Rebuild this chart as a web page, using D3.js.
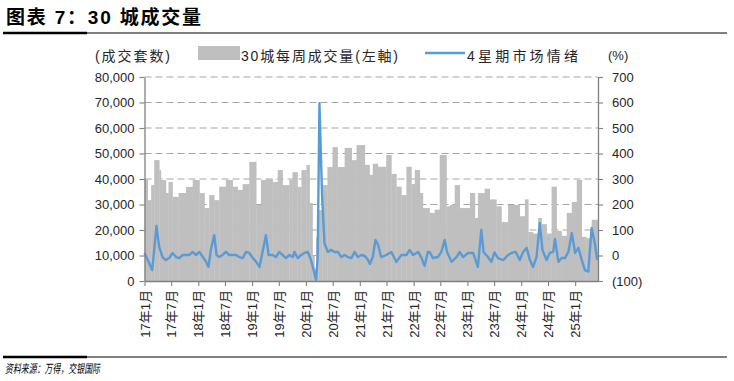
<!DOCTYPE html>
<html>
<head>
<meta charset="utf-8">
<script src="https://cdn.jsdelivr.net/npm/d3@7"></script>
<style>
    body { margin: 0; background: #fff; }
    svg { display: block; }
    text { font-family: "Liberation Sans", Arial, "Noto Sans CJK SC", sans-serif; }
</style>
</head>
<body>
<div id="chart"></div>
<script>
// 30城每周成交量 (套), each value holds from its start date to the next one
const volumeDates = [
    "2017-01-01", "2017-01-23", "2017-02-15", "2017-03-08", "2017-04-11", "2017-04-22", "2017-05-26", "2017-06-13",
    "2017-07-10", "2017-08-20", "2017-10-10", "2017-11-24", "2018-01-09", "2018-02-12", "2018-03-16", "2018-04-19",
    "2018-05-23", "2018-07-07", "2018-08-22", "2018-09-25", "2018-10-29", "2018-12-13", "2019-01-29", "2019-03-02",
    "2019-04-05", "2019-05-20", "2019-06-24", "2019-07-27", "2019-09-11", "2019-10-02", "2019-11-05", "2019-12-02",
    "2020-01-05", "2020-01-26", "2020-02-15", "2020-02-28", "2020-03-10", "2020-03-26", "2020-04-22", "2020-05-26",
    "2020-06-30", "2020-08-03", "2020-09-20", "2020-11-07", "2020-12-10", "2021-02-04", "2021-03-08", "2021-03-30",
    "2021-05-03", "2021-06-29", "2021-08-03", "2021-09-06", "2021-10-10", "2021-11-13", "2021-12-17", "2022-01-09",
    "2022-02-12", "2022-03-05", "2022-04-19", "2022-05-24", "2022-06-27", "2022-08-12", "2022-09-04", "2022-10-07",
    "2022-11-10", "2023-01-18", "2023-02-21", "2023-03-13", "2023-04-28", "2023-06-01", "2023-07-16", "2023-08-20",
    "2023-10-04", "2023-12-22", "2024-01-26", "2024-02-18", "2024-03-21", "2024-04-25", "2024-05-18", "2024-06-21",
    "2024-07-25", "2024-08-28", "2024-10-01", "2024-11-05", "2024-12-09", "2025-01-12", "2025-02-15", "2025-03-19",
    "2025-04-23"
];
const volumeValues = [
    40000, 31700, 37600, 47400, 43500, 39600, 34500, 38800,
    33000, 34500, 36900, 39600, 34500, 28600, 33700, 31700,
    37000, 39600, 37000, 35700, 38000, 46700, 29800, 39600,
    40000, 38800, 43500, 37600, 39600, 42700, 36900, 43500,
    45500, 30600, 10000, 5000, 17000, 27800, 37600, 44700,
    52500, 44700, 52200, 47400, 53300, 45500, 41600, 46000,
    44800, 49400, 42000, 37000, 33700, 44800, 38000, 43500,
    34500, 28600, 26700, 28000, 49400, 29300, 29800, 37600,
    28600, 34500, 24700, 34500, 36200, 32000, 29300, 23100,
    29800, 25400, 32000, 19200, 18600, 24700, 22300, 18600,
    37000, 19600, 17700, 26700, 31000, 39600, 17300, 16800,
    24000
];
const volumeEnd = "2025-06-05";

// 4星期市场情绪 (%)
const sentimentDates = [
    "2017-01-01", "2017-01-23", "2017-02-22", "2017-03-08", "2017-03-23", "2017-04-11", "2017-05-03", "2017-05-26",
    "2017-06-18", "2017-07-10", "2017-08-03", "2017-08-25", "2017-09-17", "2017-10-10", "2017-11-02", "2017-11-24",
    "2017-12-17", "2018-01-09", "2018-02-01", "2018-02-23", "2018-03-11", "2018-03-27", "2018-04-19", "2018-05-05",
    "2018-05-23", "2018-06-15", "2018-07-07", "2018-07-30", "2018-08-22", "2018-09-14", "2018-10-06", "2018-10-29",
    "2018-11-21", "2018-12-13", "2019-01-06", "2019-01-29", "2019-02-20", "2019-03-13", "2019-04-05", "2019-04-23",
    "2019-05-20", "2019-06-12", "2019-07-04", "2019-07-27", "2019-08-19", "2019-09-11", "2019-10-04", "2019-10-15",
    "2019-11-07", "2019-11-30", "2019-12-22", "2020-01-14", "2020-02-06", "2020-02-22", "2020-03-10", "2020-03-21",
    "2020-04-02", "2020-04-20", "2020-05-06", "2020-05-29", "2020-06-21", "2020-07-13", "2020-08-05", "2020-08-28",
    "2020-09-20", "2020-10-12", "2020-11-04", "2020-11-27", "2020-12-19", "2021-01-11", "2021-02-04", "2021-02-26",
    "2021-03-10", "2021-03-30", "2021-04-17", "2021-05-03", "2021-05-26", "2021-06-29", "2021-08-03", "2021-09-06",
    "2021-10-10", "2021-11-13", "2021-12-05", "2021-12-28", "2022-02-01", "2022-02-24", "2022-03-16", "2022-04-08",
    "2022-04-19", "2022-05-12", "2022-06-15", "2022-07-08", "2022-07-31", "2022-08-16", "2022-09-15", "2022-10-19",
    "2022-11-10", "2022-12-02", "2023-01-06", "2023-02-09", "2023-03-13", "2023-04-05", "2023-04-21", "2023-05-20",
    "2023-06-12", "2023-07-04", "2023-07-27", "2023-09-01", "2023-10-04", "2023-10-27", "2023-11-25", "2023-12-22",
    "2024-01-14", "2024-02-07", "2024-02-29", "2024-03-21", "2024-04-14", "2024-05-06", "2024-05-24", "2024-06-21",
    "2024-07-13", "2024-08-05", "2024-08-17", "2024-09-09", "2024-10-01", "2024-10-24", "2024-11-16", "2024-12-09",
    "2025-01-01", "2025-01-23", "2025-02-15", "2025-03-08", "2025-03-31", "2025-04-23", "2025-05-15", "2025-05-31"
];
const sentimentValues = [
    10, -18, -57, 22, 116, 33, -6, -18,
    -10, 10, -6, -10, 2, 2, 2, 14,
    2, 14, -6, -25, -45, 22, 80, 2,
    -6, 2, 14, 2, 2, 2, -6, -10,
    14, 10, -10, -25, -45, 14, 80, 2,
    2, -6, 14, 2, -10, 2, -6, 14,
    -10, 2, 10, 14, -20, -57, -96, -10,
    597, 231, 49, 14, 22, 14, 14, -6,
    2, -6, -10, 14, -6, 2, -2, -18,
    -33, -6, 61, 45, -6, 2, 14, -25,
    2, 2, 22, 2, 14, -10, -41, 14,
    14, -10, -6, 14, 61, 14, -25, -6,
    14, -6, 10, 10, -45, 100, 14, -6,
    -25, 12, -10, -18, 2, 10, 14, -18,
    14, 30, -18, -45, -6, 128, 22, -18,
    10, 14, 65, -25, -10, -10, 14, 88,
    10, 30, -18, -57, -63, 108, 45, -18
];

const leftTicks = [0, 10000, 20000, 30000, 40000, 50000, 60000, 70000, 80000];
const rightTicks = [-100, 0, 100, 200, 300, 400, 500, 600, 700];
const xTickLabels = ["17年1月", "17年7月", "18年1月", "18年7月", "19年1月", "19年7月", "20年1月", "20年7月",
    "21年1月", "21年7月", "22年1月", "22年7月", "23年1月", "23年7月", "24年1月", "24年7月", "25年1月"];

const parseDate = d3.timeParse("%Y-%m-%d");
const width = 734, height = 381;
const plot = { left: 144.5, right: 598, top: 77, bottom: 281 };

const svg = d3.select("#chart")
    .append("svg")
    .attr("width", width)
    .attr("height", height);

// Title and rules
svg.append("text")
    .attr("x", 6).attr("y", 24)
    .attr("font-family", "'Noto Sans CJK SC', sans-serif")
    .attr("font-weight", "bold")
    .attr("font-size", 19)
    .attr("letter-spacing", 1.8)
    .attr("fill", "#000")
    .text("图表 7：30 城成交量");

function drawRule(y) {
    svg.append("line").attr("x1", 3).attr("x2", 727).attr("y1", y).attr("y2", y)
        .attr("stroke", "#000").attr("stroke-width", 1);
    svg.append("line").attr("x1", 3).attr("x2", 87).attr("y1", y).attr("y2", y)
        .attr("stroke", "#000").attr("stroke-width", 2.5);
}
drawRule(33);
drawRule(357);

svg.append("text")
    .attr("x", 5).attr("y", 373)
    .attr("font-family", "'Noto Sans CJK SC', sans-serif")
    .attr("font-style", "italic")
    .attr("font-size", 12)
    .attr("textLength", 95)
    .attr("lengthAdjust", "spacingAndGlyphs")
    .attr("fill", "#000")
    .text("资料来源：万得，交银国际");

// Scales
const x = d3.scaleTime()
    .domain([parseDate(volumeDates[0]), parseDate(volumeEnd)])
    .range([plot.left, plot.right]);

const yLeft = d3.scaleLinear()
    .domain([0, 80000])
    .range([plot.bottom, plot.top]);

const yRight = d3.scaleLinear()
    .domain([-100, 700])
    .range([plot.bottom, plot.top]);

// Gridlines (dashed)
svg.append("g")
    .selectAll("line")
    .data(leftTicks.filter(d => d > 0))
    .enter()
    .append("line")
    .attr("x1", plot.left)
    .attr("x2", plot.right)
    .attr("y1", d => yLeft(d))
    .attr("y2", d => yLeft(d))
    .attr("stroke", "#a6a6a6")
    .attr("stroke-width", 1.2)
    .attr("stroke-dasharray", "7,4");

// Bars
const volume = volumeDates.map((d, i) => ({
    start: parseDate(d),
    end: parseDate(i + 1 < volumeDates.length ? volumeDates[i + 1] : volumeEnd),
    value: volumeValues[i]
}));

svg.append("g")
    .selectAll("rect")
    .data(volume)
    .enter()
    .append("rect")
    .attr("x", d => x(d.start))
    .attr("width", d => x(d.end) - x(d.start) + 0.3)
    .attr("y", d => yLeft(d.value))
    .attr("height", d => yLeft(0) - yLeft(d.value))
    .attr("fill", "#bfbfbf");

// Sentiment line
const sentiment = sentimentDates.map((d, i) => ({ date: parseDate(d), value: sentimentValues[i] }));

svg.append("path")
    .datum(sentiment)
    .attr("fill", "none")
    .attr("stroke", "#5b9bd5")
    .attr("stroke-width", 2.4)
    .attr("stroke-linejoin", "round")
    .attr("d", d3.line()
        .x(d => x(d.date))
        .y(d => yRight(d.value))
    );

// Axes
function styleAxis(g) {
    g.select(".domain").attr("stroke", "#808080").attr("stroke-width", 1.3);
    g.selectAll(".tick line").attr("stroke", "#808080").attr("stroke-width", 1.1);
    g.selectAll(".tick text").attr("fill", "#262626").attr("font-size", 13);
}

svg.append("g")
    .attr("transform", `translate(${plot.left},0)`)
    .call(d3.axisLeft(yLeft).tickValues(leftTicks).tickSize(5).tickSizeOuter(0).tickPadding(5)
        .tickFormat(d3.format(",")))
    .call(styleAxis);

svg.append("g")
    .attr("transform", `translate(${plot.right},0)`)
    .call(d3.axisRight(yRight).tickValues(rightTicks).tickSize(5).tickSizeOuter(0).tickPadding(9)
        .tickFormat(d => d < 0 ? `(${-d})` : d))
    .call(styleAxis);

const xTickDates = xTickLabels.map(s => {
    const m = s.match(/(\d+)年(\d+)月/);
    return new Date(2000 + +m[1], +m[2] - 1, 1);
});

svg.append("g")
    .attr("transform", `translate(0,${plot.bottom})`)
    .call(d3.axisBottom(x).tickValues(xTickDates).tickSize(5).tickSizeOuter(0)
        .tickFormat((d, i) => xTickLabels[i]))
    .call(styleAxis)
    .selectAll(".tick text")
    .attr("transform", "rotate(-90)")
    .attr("x", -9)
    .attr("y", 0)
    .attr("dy", "0.35em")
    .attr("font-family", "'Liberation Serif', 'Noto Sans CJK SC', serif")
    .attr("font-size", 13)
    .style("text-anchor", "end");

// Legend and unit labels
const legendFont = "'Liberation Sans', 'Noto Sans CJK SC', sans-serif";

function legendText(xPos, str, len) {
    svg.append("text")
        .attr("x", xPos).attr("y", 61)
        .attr("font-family", legendFont)
        .attr("font-size", 14)
        .attr("fill", "#262626")
        .attr("textLength", len)
        .attr("lengthAdjust", "spacing")
        .text(str);
}

legendText(95, "(成交套数)", 75);
svg.append("rect")
    .attr("x", 198).attr("y", 46)
    .attr("width", 42).attr("height", 14)
    .attr("fill", "#bfbfbf");
legendText(241, "30城每周成交量(左軸)", 157);
svg.append("line")
    .attr("x1", 425).attr("x2", 465)
    .attr("y1", 53).attr("y2", 53)
    .attr("stroke", "#5b9bd5")
    .attr("stroke-width", 2.4);
legendText(467, "4星期市场情绪", 111);

svg.append("text")
    .attr("x", 608).attr("y", 60)
    .attr("font-size", 13)
    .attr("fill", "#262626")
    .text("(%)");
</script>
</body>
</html>
